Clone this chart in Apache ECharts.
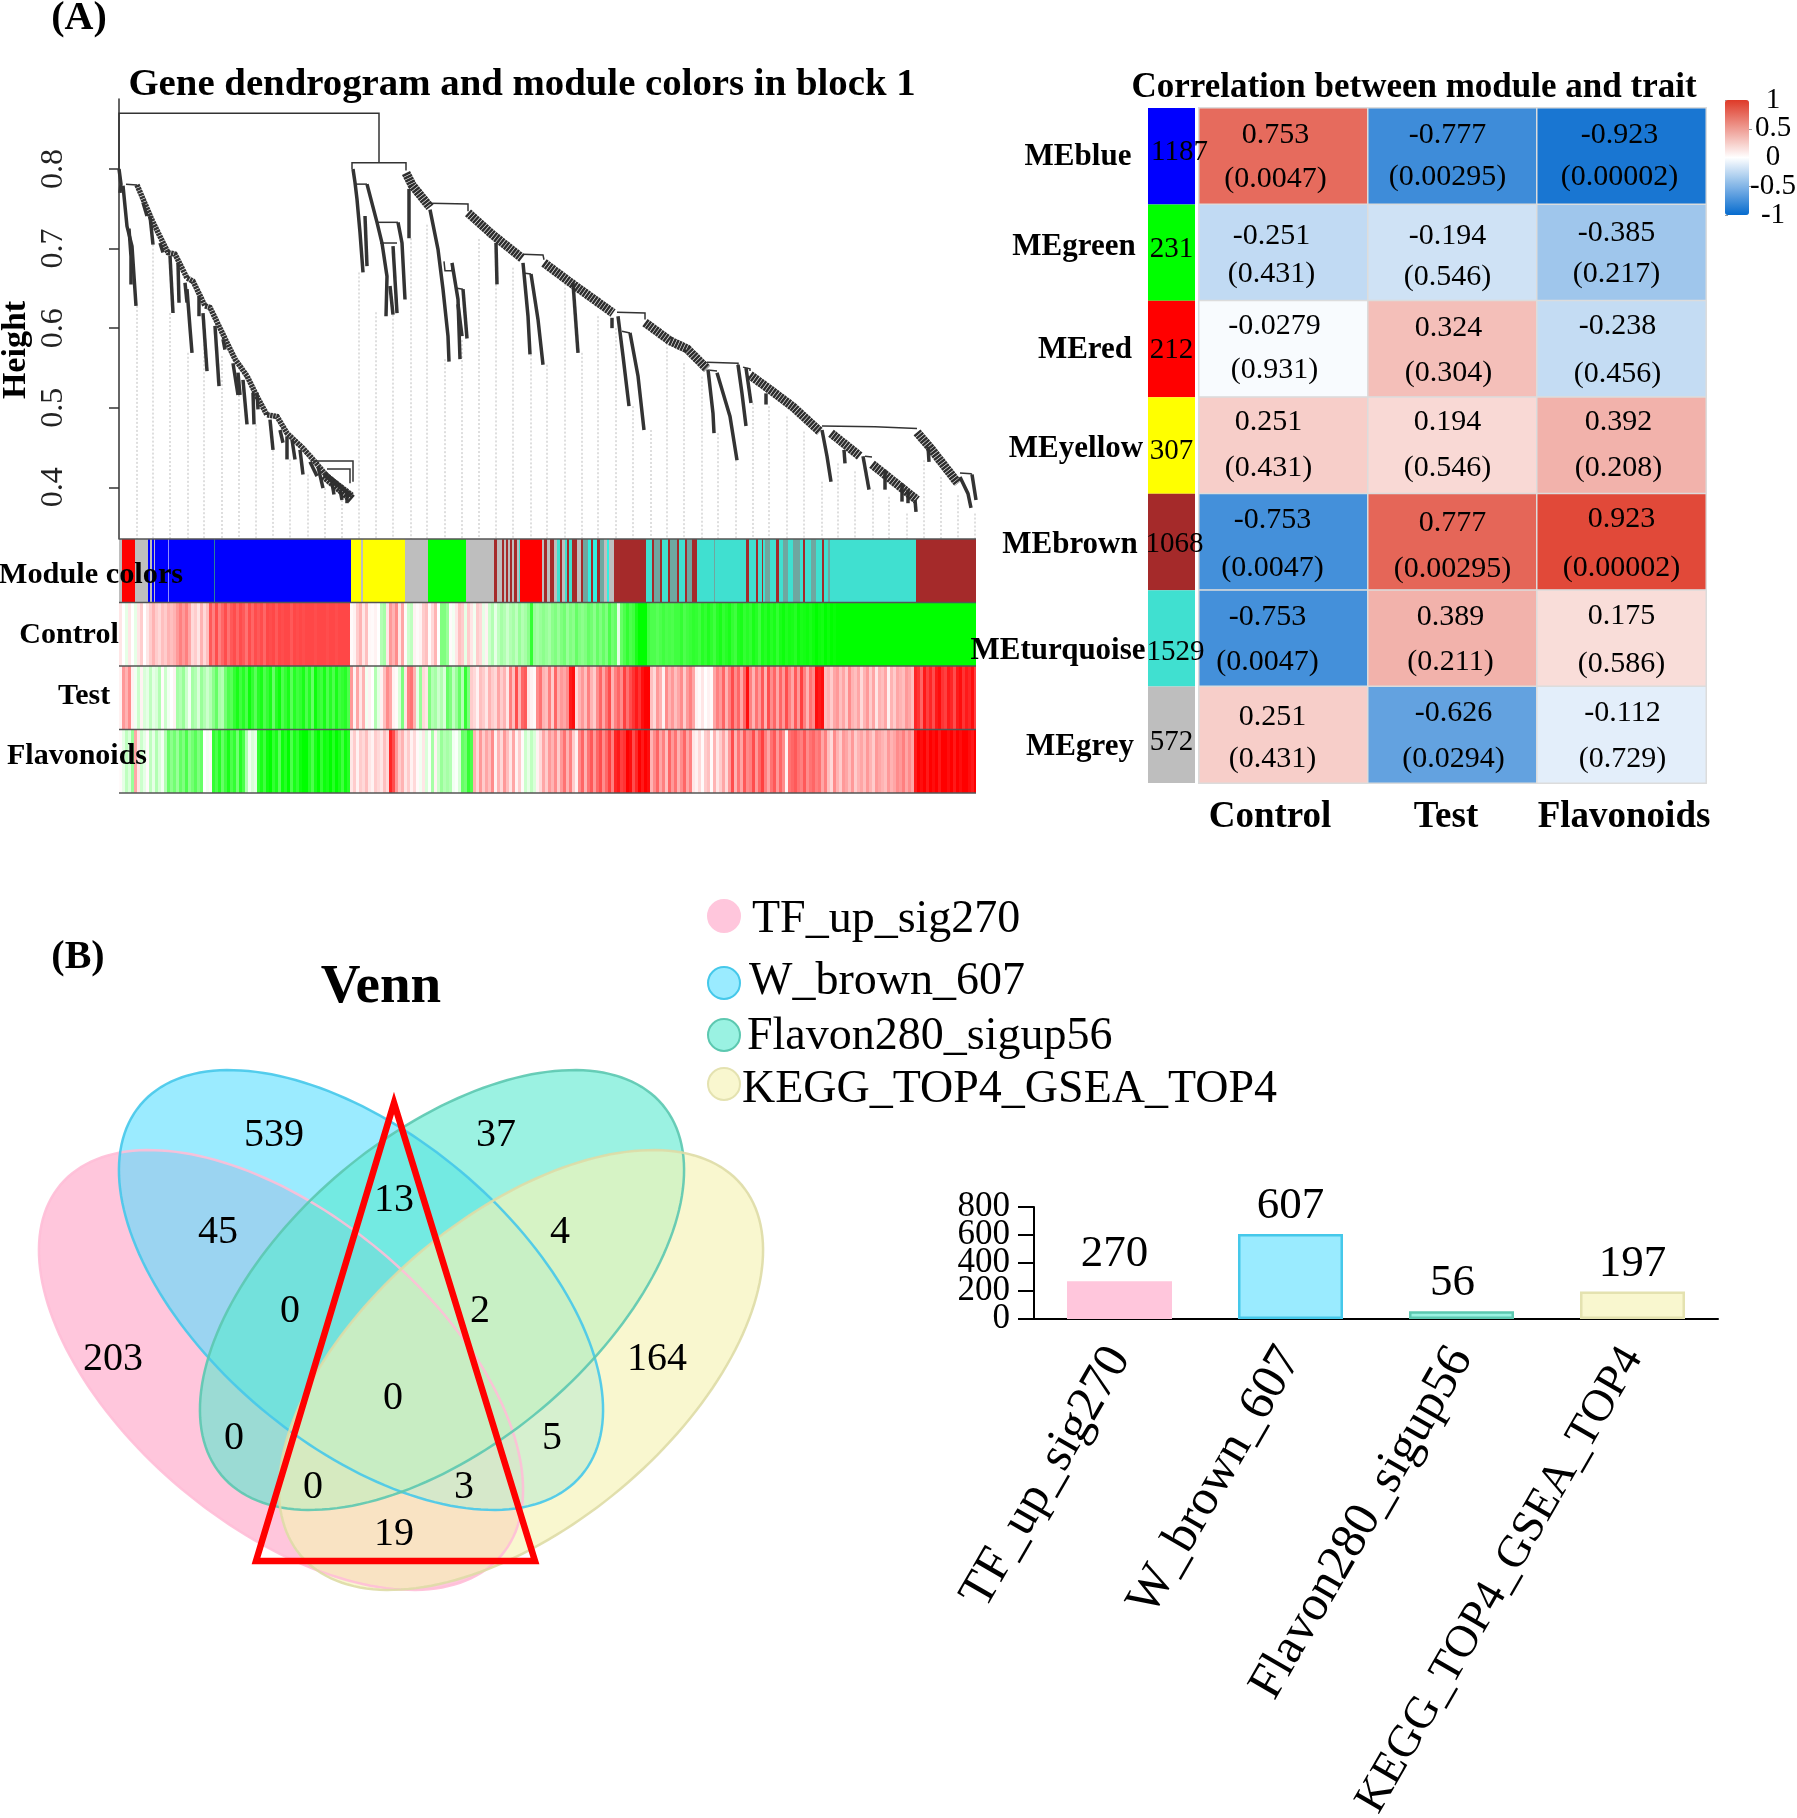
<!DOCTYPE html>
<html><head><meta charset="utf-8">
<style>html,body{margin:0;padding:0;background:#fff}#c{width:1797px;height:1818px}</style>
<script src="https://cdn.jsdelivr.net/npm/echarts@6/dist/echarts.min.js"></script>
</head><body><div id="c"></div>
<script>
// ---------- PANEL A: heatmap values ----------
const modules = ['MEblue','MEgreen','MEred','MEyellow','MEbrown','MEturquoise','MEgrey'];
const moduleColors = ['#0000ff','#00ff00','#ff0000','#ffff00','#a52a2a','#40e0d0','#bebebe'];
const moduleCounts = [1187,231,212,307,1068,1529,572];
const traits = ['Control','Test','Flavonoids'];
const corrControl = [0.753,-0.251,-0.0279,0.251,-0.753,-0.753,0.251];
const corrTest = [-0.777,-0.194,0.324,0.194,0.777,0.389,-0.626];
const corrFlavonoids = [-0.923,-0.385,-0.238,0.392,0.923,0.175,-0.112];
const pControl = ['0.0047','0.431','0.931','0.431','0.0047','0.0047','0.431'];
const pTest = ['0.00295','0.546','0.304','0.546','0.00295','0.211','0.0294'];
const pFlavonoids = ['0.00002','0.217','0.456','0.208','0.00002','0.586','0.729'];

// ---------- PANEL A: dendrogram as [gene rank, height] ----------
const dendroThinLinks = [
 [[0,.800],[0,.870],[260,.870],[260,.808]],
 [[233,.800],[233,.808],[287,.808],[287,.798]],
 [[7,.781],[18,.780]],
 [[194,.433],[234,.433],[234,.407]],
 [[208,.423],[231,.423],[231,.405]],
 [[236,.781],[248,.781]],
 [[258,.733],[279,.733]],
 [[261,.707],[278,.707]],
 [[311,.757],[349,.756],[349,.747]],
 [[325,.684],[326,.672],[333,.672],[333,.682]],
 [[338,.650],[344,.649]],
 [[404,.693],[424,.692],[425,.686]],
 [[406,.669],[412,.668]],
 [[498,.620],[526,.619],[526,.611]],
 [[503,.596],[511,.594]],
 [[588,.557],[619,.556],[619,.554]],
 [[591,.547],[598,.546]],
 [[624,.551],[631,.549],[631,.546]],
 [[703,.477],[756,.476],[798,.474]],
 [[746,.439],[753,.438]],
 [[841,.418],[852,.417],[853,.416]]
];
const dendroBranches = [
 [[0,.800],[2,.781],[1,.770]],
 [[4,.779],[8,.728],[13,.703],[17,.628]],
 [[10,.725],[12,.690],[12,.655]],
 [[24,.758],[28,.741]],
 [[31,.741],[34,.705]],
 [[41,.707],[44,.695]],
 [[51,.691],[54,.619]],
 [[59,.682],[60,.632]],
 [[66,.657],[68,.632]],
 [[68,.649],[71,.600],[73,.569]],
 [[80,.640],[80,.615]],
 [[84,.619],[88,.546]],
 [[96,.603],[100,.527]],
 [[104,.586],[106,.573]],
 [[114,.556],[119,.516]],
 [[119,.544],[121,.516]],
 [[124,.535],[128,.479]],
 [[134,.519],[135,.479]],
 [[138,.519],[139,.498]],
 [[151,.485],[154,.447]],
 [[161,.472],[164,.456]],
 [[168,.464],[168,.435]],
 [[173,.460],[176,.435]],
 [[181,.447],[184,.416]],
 [[191,.432],[198,.414]],
 [[199,.426],[204,.399]],
 [[213,.405],[215,.391]],
 [[221,.397],[223,.384]],
 [[228,.395],[228,.380]],
 [[234,.800],[236,.783],[238,.762],[241,.720],[244,.670]],
 [[246,.741],[248,.678]],
 [[248,.781],[258,.733],[263,.707],[268,.665],[267,.615]],
 [[279,.733],[283,.707],[286,.636]],
 [[274,.703],[278,.619]],
 [[271,.653],[274,.617]],
 [[290,.775],[290,.713]],
 [[311,.749],[319,.699],[324,.649],[329,.590],[330,.558]],
 [[333,.682],[339,.636],[341,.561]],
 [[344,.649],[348,.587]],
 [[339,.630],[343,.590]],
 [[377,.707],[378,.655]],
 [[404,.682],[409,.615],[411,.567]],
 [[412,.668],[419,.611],[424,.554]],
 [[454,.657],[459,.569]],
 [[493,.613],[493,.600]],
 [[499,.615],[504,.565],[510,.502]],
 [[511,.594],[519,.540],[525,.472]],
 [[589,.548],[594,.493],[595,.468]],
 [[598,.544],[611,.489],[618,.434]],
 [[619,.554],[623,.518],[627,.477]],
 [[627,.550],[632,.506]],
 [[647,.518],[647,.504]],
 [[703,.472],[708,.439],[712,.407]],
 [[725,.447],[726,.430]],
 [[744,.439],[750,.397]],
 [[766,.422],[766,.397]],
 [[783,.405],[783,.382]],
 [[789,.397],[789,.380]],
 [[796,.384],[797,.369]],
 [[809,.451],[810,.432]],
 [[841,.413],[849,.392],[852,.374]],
 [[853,.416],[857,.384]]
];
const dendroBlueSpine = [
 [[18,.780],[34,.733],[49,.695],[56,.693],[68,.663],[74,.659],[86,.628],[91,.626],[101,.600],
  [116,.561],[128,.540],[138,.514],[148,.491],[158,.489],[168,.468],[184,.449],[194,.435],[208,.414],[233,.390]]
];
const dendroCombs = [
 [[205,.415],[233,.385]],
 [[287,.795],[293,.780],[311,.752]],
 [[349,.745],[373,.718],[403,.688]],
 [[425,.682],[454,.655],[494,.619]],
 [[526,.607],[551,.584],[568,.574],[588,.549]],
 [[631,.541],[654,.520],[674,.501],[701,.470]],
 [[712,.468],[741,.439]],
 [[753,.429],[774,.408],[798,.384]],
 [[798,.469],[811,.450],[839,.405]]
];
const guideRanks = [18,34,51,69,85,103,120,137,154,171,189,206,223,240,257,274,292,308,326,343,360,377,394,412,428,446,463,479,497,514,532,548,565,583,599,617,634,650,668,685,703,719,736,754,770,788,805,822,839,856];
const guideTops = [.628,.705,.619,.569,.615,.565,.516,.479,.447,.435,.416,.399,.384,.670,.620,.617,.713,.730,.561,.585,.712,.655,.676,.567,.554,.661,.569,.615,.600,.502,.472,.586,.556,.539,.468,.434,.506,.502,.489,.470,.407,.430,.420,.397,.388,.367,.434,.413,.390,.367];

// ---------- PANEL A: colour strips ----------
const moduleStrip = [
 [0,3,'grey'],[3,16,'red'],[16,29,'grey'],[29,31,'blue'],[31,33,'grey'],[33,35,'blue'],[35,36,'grey'],[36,49,'blue'],[49,50,'pale'],[50,95,'blue'],[95,96,'teal'],[96,232,'blue'],
 [232,242,'yellow'],[242,244,'grey'],[244,286,'yellow'],[286,309,'grey'],[309,347,'green'],[347,375,'grey'],
 [375,378,'brown'],[378,383,'grey'],[383,385,'brown'],[385,387,'grey'],[387,389,'brown'],[389,391,'grey'],[391,393,'brown'],[393,395,'grey'],[395,398,'brown'],[398,400,'grey'],[400,401,'turq'],
 [401,423,'red'],[423,425,'grey'],[425,428,'brown'],[428,431,'grey'],[431,435,'brown'],[435,438,'grey'],[438,441,'turq'],[441,443,'brown'],[443,446,'grey'],[446,448,'turq'],[448,450,'brown'],[450,453,'turq'],[453,458,'brown'],[458,462,'grey'],[462,464,'brown'],[464,469,'muted'],[469,472,'cyan'],[472,474,'brown'],[474,478,'cyan'],[478,481,'brown'],[481,485,'muted'],[485,488,'grey'],[488,490,'cyan'],[490,495,'grey'],
 [495,527,'brown'],[527,533,'turq'],[533,535,'brown'],[535,541,'muted'],[541,543,'brown'],[543,549,'turq'],[549,551,'brown'],[551,558,'muted'],[558,560,'brown'],[560,566,'turq'],[566,568,'brown'],[568,573,'muted'],[573,578,'brown'],
 [578,595,'turq'],[595,596,'muted'],[596,627,'turq'],[627,630,'brown'],[630,637,'turq'],[637,639,'brown'],[639,643,'turq'],[643,644,'brown'],[644,646,'turq'],[646,651,'muted'],[651,657,'turq'],[657,660,'brown'],[660,664,'turq'],[664,669,'muted'],[669,674,'turq'],[674,681,'muted'],[681,684,'turq'],[684,686,'brown'],[686,692,'turq'],[692,697,'muted'],[697,703,'turq'],[703,705,'brown'],[705,709,'turq'],[709,711,'muted'],
 [711,797,'turq'],[797,857,'brown']
];
const stripNames = {grey:'#bebebe',red:'#ff0000',blue:'#0000ff',pale:'#8f8fff',teal:'#2a7f9a',yellow:'#ffff00',green:'#00ff00',brown:'#a52a2a',turq:'#40e0d0',muted:'#6fa7a0',cyan:'#30f0e0'};
const stripBinWidth = 3;
const controlStrip = [
 .1,0,-.1,.1,0,-.1,.1,.2,0,.1, .2,.3,.2,.15,.25,.2,.3,.25,.3,.4, .5,.4,.5,.35,.15,.2,.1,.3,.15,.25,
 .65,.5,.7,.5,.6,.7,.55,.65,.7,.6, .7,.65,.55,.7,.6,.7,.65,.7,.6,.72, .7,.72,.65,.72,.7,.72,.72,.65,.72,.7,
 .72,.7,.72,.72,.72,.7,.72,.72,.72,.7, .72,.72,.7,.72,.72,.72,.72,.02,.05,.2, .3,.1,.25,.03,.02,.05,0,-.3,-.35,.1,
 .4,.3,.45,.1,.35,.02,-.2,-.25,.05,.02, .05,.2,.25,.02,.15,.3,0,-.5,-.5,-.4, .02,-.05,.1,.25,.2,-.1,.2,.1,-.05,.2,
 .15,-.1,.05,-.2,-.3,-.1,-.25,-.35,-.3,-.2, -.3,-.35,-.25,-.4,-.3,-.35,-.45,-.8,-.4,-.35, -.4,-.45,-.4,-.35,-.45,-.5,-.4,-.5,-.55,-.4,
 -.5,-.45,-.6,-.5,-.45,-.5,-.6,-.55,-.45,-.6, -.5,-.6,-.5,-.7,-.55,-.6,-.1,-.6,-.7,-.8, -.7,-.75,-.9,-1,-1,-1,-.75,-.7,-.7,-.65,
 -.7,-.75,-.7,-.72,-.7,-.75,-.75,-.8,-.7,-.75, -.78,-.82,-.8,-.75,-.85,-.8,-.88,-.82,-.75,-.85, -.9,-.8,-.85,-.9,-.8,-.75,-.88,-.9,-.8,-.85,
 -.8,-.9,-.85,-.75,-.9,-.85,-.92,-.85,-.9,-.8, -.9,-.95,-.88,-.92,-.9,-.85,-.95,-.9,-.92,-.95, -.9,-.95,-1,-.95,-.92,-1,-.95,-1,-.97,-1,
 -1,-1,-1,-1,-1,-1,-1,-1,-1,-1, -1,-1,-1,-1,-1,-1,-1,-1,-1,-1, -1,-1,-1,-1,-1,-1,-1,-1,-1,-1, -1,-1,-1,-1,-1,-1,-1,-1,-1,-1, -1,-1,-1,-1,-1,-1,-1,-1
];
const testStrip = [
 .05,.4,.3,.45,.05,-.05,-.2,.05,-.15,-.1, -.25,-.1,-.15,-.3,.02,-.2,-.05,0,.05,-.35, -.3,-.4,-.2,-.05,-.35,-.3,-.15,-.4,-.3,-.2,
 -.3,-.45,-.6,-.35,-.3,-.55,-.7,-.65,-.8,-.9, -.75,-.85,-.7,-.95,-.8,-.65,-.85,-.9,-.7,-.8, -.9,-.6,-.85,-.95,-.7,-.8,-.9,-.65,-.85,-.75,
 -.8,-.9,-.7,-.85,-.6,-.95,-.8,-.75,-.9,-.7, -.85,-.7,-.9,-.75,-.8,-.85,-.7,.4,.05,.35, .1,.3,-.05,.05,0,-.3,-.1,.05,.25,.45,
 .35,.05,.02,-.15,-.5,.1,.5,.55,.3,-.1, -.4,.15,.1,-.5,-.3,-.35,-.2,-.3,-.15,-.6, -.5,-.25,-.4,-.6,-.3,-.8,-.5,.2,.15,.05,
 .25,.2,.1,.3,.2,.15,.35,.2,.3,.1, .5,.25,.7,.3,.6,.65,.1,.05,.02,.45, .55,.3,.25,.5,.2,.6,.3,.4,.35,.45,
 .9,.95,.15,.3,.4,.25,.5,.3,.2,.45, .6,.35,.55,.7,.3,.5,.6,.45,.75,.55, .7,.8,.9,.8,.95,1,1,.25,.15,.4,
 .3,.05,.45,.3,.4,.25,.35,.45,.2,.4, .5,.35,.05,.02,.1,0,.05,.02,.35,.5, .4,.6,.3,.5,.7,.45,.6,.35,.6,.95,
 .5,.3,.55,.4,.65,.3,.7,.45,.6,.35, .6,.4,.7,.5,.35,.65,.4,.75,.5,.3, .55,.45,.95,.9,.95,.25,.3,.2,.35,.4,
 .25,.35,.2,.45,.3,.25,.35,.15,.3,.4, .2,.35,.1,.3,.25,.35,.05,.3,.2,.35, .3,.25,.4,.35,.25,.85,.8,.6,.9,.75,
 .85,.7,.9,.95,.8,.75,.9,.85,.7,.9, .95,.8,.9,.85,.95,.75,.9,.8
];
const flavonoidStrip = [
 .02,-.1,-.25,-.15,-.4,.35,.1,-.2,-.1,.02, -.25,-.1,-.3,-.15,-.05,-.3,-.6,-.45,-.55,-.4, -.6,-.5,-.7,-.45,-.55,-.65,-.5,-.6,0,-.05,
 .02,-.8,-.7,-.85,-.6,-.75,-.9,-.7,-.8,-.55, -.85,-.7,-.3,-.05,-.15,-.1,-.8,-.9,-.75,-.95, -1,-.8,-.9,-.65,-.95,-.85,-1,-.7,-.9,-.8,
 -.95,-1,-1,-.85,-.7,-.9,-1,-.8,-.95,-.9, -1,-.85,-1,-.9,-.75,-.95,-.85,.1,.2,.05, .2,.15,.25,.1,.05,.2,.15,.1,.25,.15,
 .85,.7,.4,.2,.3,.1,.2,.05,.15,.02, -.05,.1,-.15,-.02,-.35,.05,-.2,-.4,-.3,-.35, -.3,-.05,-.02,-.15,-.6,-.55,-.8,-.7,.3,.15,
 .4,.2,.35,.25,.45,.05,.3,.15,.4,.25, .1,.35,.05,.2,.02,-.2,-.1,-.25,-.15,.05, .15,.35,.2,.4,.3,.45,.2,.4,.55,.3,
 .5,.2,.05,.45,.6,.3,.55,.65,.4,.6, .7,.45,.6,.75,.5,.85,.9,.75,.8,1, .95,.7,.85,1,.9,1,.95,.3,.45,.6,
 .35,.5,.25,.6,.4,.55,.3,.45,.6,.35, .5,.1,.05,.15,.02,.2,.25,.02,.3,.1, .2,.35,.15,.4,.7,.3,.55,.35,.65,.45,
 .5,.7,.4,.6,.75,.5,.35,.55,.65,.4, .6,.45,.05,.55,.6,.65,.55,.5,.65,.45, .55,.6,.5,.55,.35,.5,.25,.15,.45,.3,
 .2,.4,.35,.25,.4,.2,.3,.35,.25,.4, .3,.2,.4,.35,.3,.25,.4,.3,.35,.45, .4,.5,.35,.45,.35,.9,1,.95,1,.9,
 1,.95,1,.9,1,1,.95,1,.9,1, .95,1,1,.95,.9,1,.45,.4
];

// ---------- PANEL B: Venn and bars ----------
const setNames = ['TF_up_sig270','W_brown_607','Flavon280_sigup56','KEGG_TOP4_GSEA_TOP4'];
const setSizes = [270,607,56,197];
const vennCounts = [539,37,45,13,4,0,2,203,164,0,0,5,0,3,19];

// ---------- Layout and styles (kept apart from the values) ----------
const SERIF = '"Liberation Serif","Times New Roman",serif';
const cellLabelLayout = [ // [dx, dy, lineHeight] per module row, per trait
 [[-8,1,44],[-5,0,42],[-2,0,42]],
 [[-12,2,38],[-5,4,41],[-5,1,41]],
 [[-9,-1,44],[-4,2,45],[-4,1,48]],
 [[-15,0,46],[-5,0,46],[-3,0,46]],
 [[-11,2,48],[0,4,46],[0,2,49]],
 [[-16,1,45],[-2,1,45],[0,2,48]],
 [[-11,3,42],[1,1,46],[1,1,46]]
];
const countLabelNudge = [[8,-4],[0,-3],[0,1],[0,6],[3,2],[4,14],[0,8]];
const vennShapes = [ // centre x, centre y, semi-major, semi-minor, angle
 {c:[281,1370],a:288,b:155,t:40,fill:'rgba(255,160,197,.6)',stroke:'rgba(255,190,215,.9)'},
 {c:[361,1290],a:288,b:155,t:40,fill:'rgba(88,222,255,.6)',stroke:'rgba(70,200,234,.9)'},
 {c:[442,1290],a:288,b:155,t:-40,fill:'rgba(88,233,207,.6)',stroke:'rgba(92,200,176,.9)'},
 {c:[521,1370],a:288,b:155,t:-40,fill:'rgba(246,243,181,.65)',stroke:'rgba(222,220,166,.9)'}
];
const vennLabelPos = [[274,1135],[496,1135],[218,1232],[394,1200],[560,1232],[290,1311],[480,1311],[113,1359],[657,1359],[393,1398],[234,1438],[552,1438],[313,1487],[464,1487],[394,1534]];
const triangleCorners = [[394,1103],[256,1561],[535,1561]];
const setFill = ['#ffc6dc','#9aebff','#9af2e2','#f9f7cf'];
const setStroke = ['#ffc6dc','#45c8ea','#5cc8b0','#e4e2b0'];
const legendMarkerPos = [[724,916],[724,983],[724,1035],[724,1084]];
const legendTextPos = [[752,920],[749,982],[747,1037],[742,1090]];
const barLabelNudge = [-5,0,-9,0];
const barCategorySizes = [50,50,50,45.5];
const pageTexts = [
 {t:'(A)',x:79,y:19,s:40,b:1},{t:'(B)',x:78,y:958,s:40,b:1},
 {t:'Venn',x:381,y:988,s:55,b:1},
 {t:'Height',x:16,y:350,s:34,b:1,r:90},
 {t:'Module colors',x:91,y:575,s:30.3,b:1},{t:'Control',x:69,y:635,s:30,b:1},
 {t:'Test',x:84,y:696,s:30,b:1},{t:'Flavonoids',x:77,y:756,s:30,b:1},
 {t:modules[0],x:1078,y:157,s:31,b:1},{t:modules[1],x:1074,y:247,s:31,b:1},{t:modules[2],x:1085,y:350,s:31,b:1},
 {t:modules[3],x:1076,y:449,s:31,b:1},{t:modules[4],x:1070,y:545,s:31,b:1},{t:modules[5],x:1058,y:651,s:31,b:1},{t:modules[6],x:1080,y:747,s:31,b:1},
 {t:traits[0],x:1270,y:817,s:37,b:1},{t:traits[1],x:1446,y:817,s:37,b:1},{t:traits[2],x:1624,y:817,s:37,b:1}
];

function stripColor(v){
 const k = Math.round(255*(1-Math.abs(v)));
 return v>=0 ? `rgb(255,${k},${k})` : `rgb(${k},255,${k})`;
}
const stripRects=[], stripRectColors=[];
moduleStrip.forEach(s=>{stripRects.push([s[0],s[1],0]);stripRectColors.push(stripNames[s[2]]);});
[controlStrip,testStrip,flavonoidStrip].forEach((row,r)=>row.forEach((v,i)=>{
 stripRects.push([i*stripBinWidth,Math.min((i+1)*stripBinWidth,857),r+1]);stripRectColors.push(stripColor(v));
}));
const stripRowEdges=[0,1,2,3,4];

function pathSeries(paths,style,z){
 return {type:'custom',xAxisIndex:0,yAxisIndex:0,coordinateSystem:'cartesian2d',silent:true,clip:false,z:z||3,
  data:paths.map(p=>p[0]),
  renderItem:(params,api)=>({type:'polyline',shape:{points:paths[params.dataIndex].map(p=>api.coord(p))},style:Object.assign({fill:null},style)})};
}
function ellipsePoints(v,api){
 const th=v.t*Math.PI/180,pts=[];
 for(let i=0;i<180;i++){const u=i/180*2*Math.PI,x=v.a*Math.cos(u),y=v.b*Math.sin(u);
  pts.push(api.coord([v.c[0]+x*Math.cos(th)-y*Math.sin(th),v.c[1]+x*Math.sin(th)+y*Math.cos(th)]));}
 return pts;
}
const heatData=[];
[[corrControl,pControl],[corrTest,pTest],[corrFlavonoids,pFlavonoids]].forEach((col,x)=>{
 modules.forEach((m,y)=>{
  const L=cellLabelLayout[y][x];
  heatData.push({value:[x,y,col[0][y]],label:{show:true,formatter:col[0][y]+'\n('+col[1][y]+')',lineHeight:L[2],offset:[L[0],L[1]]}});
 });
});
const hide={show:false};
const G=o=>Object.assign({outerBoundsMode:'none'},o);
const option={
 animation:false,backgroundColor:'#fff',
 textStyle:{fontFamily:SERIF},
 title:[
  {text:'Gene dendrogram and module colors in block 1',left:517,top:80,textAlign:'center',textVerticalAlign:'middle',textStyle:{fontFamily:SERIF,fontWeight:'bold',fontSize:38.8,color:'#000'}},
  {text:'Correlation between module and trait',left:1409,top:83,textAlign:'center',textVerticalAlign:'middle',textStyle:{fontFamily:SERIF,fontWeight:'bold',fontSize:35,color:'#000'}}
 ],
 grid:[
  G({left:119,top:99,width:857,height:440}),
  G({left:119,top:539,width:857,height:254}),
  G({left:1199,top:108,width:507,height:675}),
  G({left:1148,top:108,width:47,height:675}),
  G({left:1725,top:100,width:24,height:115}),
  G({left:0,top:0,width:1797,height:1818}),
  G({left:1034,top:1207,width:684,height:112})
 ],
 xAxis:[
  {gridIndex:0,type:'value',min:0,max:857,show:false},
  {gridIndex:1,type:'value',min:0,max:857,show:false},
  {gridIndex:2,type:'category',data:traits,show:false},
  {gridIndex:3,type:'value',min:0,max:1,show:false},
  {gridIndex:4,type:'value',min:0,max:1,show:false},
  {gridIndex:5,type:'value',min:0,max:1797,show:false},
  {gridIndex:6,type:'category',data:setNames.map((n,i)=>({value:n,textStyle:{fontSize:barCategorySizes[i]}})),axisLine:{lineStyle:{color:'#000',width:2}},axisTick:{alignWithLabel:true,length:12,lineStyle:{color:'#000',width:2}},
   axisLabel:{rotate:60,interval:0,margin:32,hideOverlap:false,fontFamily:SERIF,fontSize:50,color:'#000'}}
 ],
 yAxis:[
  {gridIndex:0,type:'value',min:.335,max:.888,offset:33,splitLine:hide,
   axisLine:{show:true,lineStyle:{color:'#333',width:1.5}},
   axisTick:{show:true,length:10,lineStyle:{color:'#333',width:1.5},customValues:[.4,.5,.6,.7,.8]},
   axisLabel:{rotate:90,margin:16,fontFamily:SERIF,fontSize:32,color:'#222',customValues:[.4,.5,.6,.7,.8],formatter:v=>v.toFixed(1)}},
  {gridIndex:1,type:'value',min:0,max:4,inverse:true,show:false},
  {gridIndex:2,type:'category',data:modules,inverse:true,show:false},
  {gridIndex:3,type:'category',data:modules,inverse:true,show:false},
  {gridIndex:4,type:'value',min:-1,max:1,position:'right',splitLine:hide,axisLine:hide,
   axisTick:{show:true,length:3,lineStyle:{color:'#999'},customValues:[-1,0,1]},
   axisLabel:{margin:24,align:'center',customValues:[-1,0,1],fontFamily:SERIF,fontSize:29,color:'#000'}},
  {gridIndex:5,type:'value',min:0,max:1818,inverse:true,show:false},
  {gridIndex:6,type:'value',min:0,max:800,position:'left',splitLine:hide,
   axisLine:{show:true,lineStyle:{color:'#000',width:2}},axisTick:{show:true,length:16,lineStyle:{color:'#000',width:2},customValues:[0,400,800]},
   axisLabel:{margin:24,customValues:[0,400,800],fontFamily:SERIF,fontSize:35,color:'#000'}},
  {gridIndex:4,type:'value',min:-1,max:1,position:'right',offset:0,splitLine:hide,axisLine:hide,
   axisTick:{show:true,length:3,lineStyle:{color:'#999'},customValues:[-.5,.5]},
   axisLabel:{margin:24,align:'center',customValues:[-.5,.5],fontFamily:SERIF,fontSize:29,color:'#000'}},
  {gridIndex:6,type:'value',min:0,max:800,position:'left',offset:0,splitLine:hide,axisLine:hide,
   axisTick:{show:true,length:16,lineStyle:{color:'#000',width:2},customValues:[200,600]},
   axisLabel:{margin:24,customValues:[200,600],fontFamily:SERIF,fontSize:35,color:'#000'}}
 ],
 visualMap:{type:'continuous',seriesIndex:0,dimension:2,min:-1,max:1,left:1725,top:100,padding:0,itemWidth:24,itemHeight:115,calculable:false,text:['',''],textGap:0,realtime:false,
  inRange:{color:['#066bce','#ffffff','#de3a28']},hoverLink:false},
 series:[
  {type:'heatmap',xAxisIndex:2,yAxisIndex:2,data:heatData,itemStyle:{borderColor:'#dcdcdc',borderWidth:1.5},
   label:{show:true,fontFamily:SERIF,fontSize:30,color:'#000'},emphasis:{disabled:true},silent:true},
  {type:'bar',xAxisIndex:3,yAxisIndex:3,barWidth:'100%',silent:true,
   data:moduleCounts.map((n,i)=>({value:1,itemStyle:{color:moduleColors[i]},
     label:{show:true,position:'inside',formatter:String(n),offset:countLabelNudge[i],fontFamily:SERIF,fontSize:29,color:'#000'}}))},
  {type:'custom',xAxisIndex:0,yAxisIndex:0,silent:true,clip:false,z:1,
   data:guideRanks.map((r,i)=>[r,guideTops[i]]),
   renderItem:(p,api)=>{const a=api.coord([api.value(0),api.value(1)]),b=api.coord([api.value(0),.335]);
    return {type:'line',shape:{x1:a[0],y1:a[1],x2:b[0],y2:b[1]},style:{stroke:'#bdbdbd',lineWidth:1,lineDash:[2,2]}};}},
  pathSeries(dendroThinLinks,{stroke:'#333',lineWidth:1.5}),
  pathSeries(dendroBranches,{stroke:'#333',lineWidth:3.5}),
  pathSeries(dendroBlueSpine,{stroke:'#333',lineWidth:5.5,lineDash:[2.5,.6]}),
  pathSeries(dendroCombs,{stroke:'#2e2e2e',lineWidth:9,lineDash:[2.5,.6]}),
  {type:'custom',xAxisIndex:1,yAxisIndex:1,silent:true,clip:true,z:2,
   data:stripRects,encode:{x:[0,1],y:2},
   renderItem:(p,api)=>{const a=api.coord([api.value(0),api.value(2)]),b=api.coord([api.value(1),api.value(2)+1]);
    return {type:'rect',shape:{x:a[0],y:a[1],width:b[0]-a[0]+.5,height:b[1]-a[1]},style:{fill:stripRectColors[p.dataIndex]}};}},
  {type:'custom',xAxisIndex:1,yAxisIndex:1,silent:true,clip:false,z:3,
   data:stripRowEdges.map(r=>[0,r]),
   renderItem:(p,api)=>{const a=api.coord([0,api.value(1)]),b=api.coord([857,api.value(1)]);
    return {type:'line',shape:{x1:a[0],y1:a[1],x2:b[0],y2:b[1]},style:{stroke:'#555',lineWidth:1.5}};}},
  {type:'custom',xAxisIndex:5,yAxisIndex:5,silent:true,clip:false,z:4,
   data:vennShapes.map(v=>v.c),
   renderItem:(p,api)=>({type:'polygon',shape:{points:ellipsePoints(vennShapes[p.dataIndex],api)},style:{fill:vennShapes[p.dataIndex].fill}})},
  {type:'custom',xAxisIndex:5,yAxisIndex:5,silent:true,clip:false,z:5,
   data:vennShapes.map(v=>v.c),
   renderItem:(p,api)=>({type:'polygon',shape:{points:ellipsePoints(vennShapes[p.dataIndex],api)},style:{fill:null,stroke:vennShapes[p.dataIndex].stroke,lineWidth:2.5}})},
  {type:'custom',xAxisIndex:5,yAxisIndex:5,silent:true,clip:false,z:5,
   data:[triangleCorners[0]],
   renderItem:(p,api)=>({type:'polygon',shape:{points:triangleCorners.map(c=>api.coord(c))},style:{fill:null,stroke:'#ff0000',lineWidth:6.5,lineJoin:'miter'}})},
  {type:'scatter',xAxisIndex:5,yAxisIndex:5,silent:true,z:6,symbolSize:0,itemStyle:{opacity:1},
   data:vennCounts.map((n,i)=>({value:vennLabelPos[i],label:{show:true,position:'inside',formatter:String(n),fontFamily:SERIF,fontSize:40,color:'#000'}}))},
  {type:'scatter',xAxisIndex:5,yAxisIndex:5,silent:true,z:6,symbol:'circle',symbolSize:32,
   data:setNames.map((n,i)=>({value:legendMarkerPos[i],itemStyle:{color:setFill[i],borderColor:setStroke[i],borderWidth:2,opacity:1}}))},
  {type:'scatter',xAxisIndex:5,yAxisIndex:5,silent:true,z:6,symbolSize:0,itemStyle:{opacity:1},
   data:setNames.map((n,i)=>({value:legendTextPos[i],label:{show:true,position:'right',distance:0,formatter:n,fontFamily:SERIF,fontSize:46,color:'#000'}}))},
  {type:'scatter',xAxisIndex:5,yAxisIndex:5,silent:true,z:20,symbolSize:0,itemStyle:{opacity:1},
   data:pageTexts.map(t=>({value:[t.x,t.y],label:{show:true,position:'inside',formatter:t.t,rotate:t.r||0,fontFamily:SERIF,fontWeight:t.b?'bold':'normal',fontSize:t.s,color:'#000'}}))},
  {type:'bar',xAxisIndex:6,yAxisIndex:6,barWidth:105,silent:true,z:4,
   data:setSizes.map((v,i)=>({value:v,itemStyle:{color:setFill[i],borderColor:setStroke[i],borderWidth:2.5},
    label:{show:true,position:'top',distance:5,offset:[barLabelNudge[i],0],formatter:String(v),fontFamily:SERIF,fontSize:45,color:'#000'}}))}
 ]
};
const chart=echarts.init(document.getElementById('c'),null,{renderer:'canvas',width:1797,height:1818});
chart.setOption(option);
</script>
</body></html>
